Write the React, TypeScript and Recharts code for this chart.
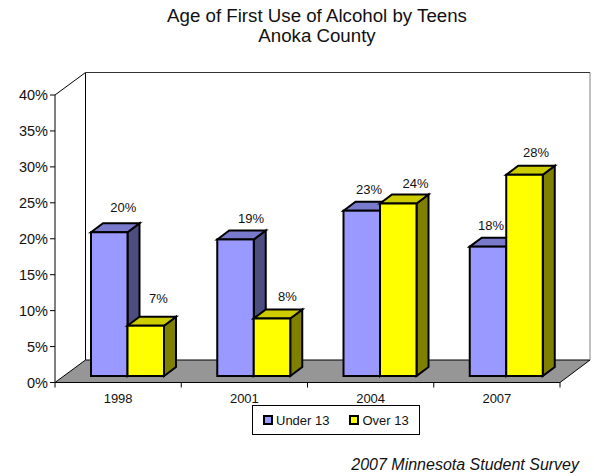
import { Bar, BarChart, LabelList, Legend, XAxis, YAxis } from "recharts";

const years = ["1998", "2001", "2004", "2007"];
const under13 = [20, 19, 23, 18];
const over13 = [7, 8, 24, 28];
const percentTicks = [0, 5, 10, 15, 20, 25, 30, 35, 40];

const chartData = years.map((year, i) => ({
  year,
  under13: under13[i],
  over13: over13[i],
}));

const FONT = "'Liberation Sans', Arial, sans-serif";
const TEXT = "#111";
const BAND = 126.25;

// how far the front face of a bar sits from its place on the floor edge
const SHIFT_X = 9;
const SHIFT_Y = -6.5;
const DEPTH_X = 12;
const DEPTH_Y = 9;

// excel places these by hand, more or less: dx from bar centre, dy from front top to baseline
const underNudges = [
  [14, -20.5],
  [15.5, -16.7],
  [7.2, -17],
  [3, -17],
];
const overNudges = [
  [12.7, -23],
  [15.5, -17.6],
  [17.2, -16],
  [11.5, -18],
];

function bar3d(top: string, side: string) {
  return function Bar3dShape(props: any) {
    const { x, y, width, height, fill } = props;
    const fx = x + SHIFT_X;
    const fy = y + SHIFT_Y;
    return (
      <g stroke="#000" strokeWidth={2} strokeLinejoin="miter">
        <path
          d={`M${fx + width} ${fy} l${DEPTH_X} ${-DEPTH_Y} v${height} l${-DEPTH_X} ${DEPTH_Y} z`}
          fill={side}
        />
        <path
          d={`M${fx} ${fy} l${DEPTH_X} ${-DEPTH_Y} h${width} l${-DEPTH_X} ${DEPTH_Y} z`}
          fill={top}
        />
        <rect x={fx} y={fy} width={width} height={height} fill={fill} />
      </g>
    );
  };
}

function valueLabel(nudges: number[][]) {
  return function ValueLabel(props: any) {
    const { x, y, width, value, index } = props;
    const [dx, dy] = nudges[index];
    return (
      <text
        x={x + SHIFT_X + width / 2 + dx}
        y={y + SHIFT_Y + dy}
        textAnchor="middle"
        fontFamily={FONT}
        fontSize={13}
        fill={TEXT}
      >
        {value}%
      </text>
    );
  };
}

function YearTick(props: any) {
  const { x, y, payload, index } = props;
  return (
    <g>
      <line x1={x - BAND / 2} x2={x - BAND / 2} y1={y - 8} y2={y - 3} stroke="#000" />
      {index === years.length - 1 && (
        <line x1={x + BAND / 2} x2={x + BAND / 2} y1={y - 8} y2={y - 3} stroke="#000" />
      )}
      <text x={x} y={y + 12.5} textAnchor="middle" fontFamily={FONT} fontSize={13} fill={TEXT}>
        {payload.value}
      </text>
    </g>
  );
}

function LegendBox({ payload }: any) {
  return (
    <div
      style={{
        width: 168,
        height: 30,
        boxSizing: "border-box",
        border: "1px solid #000",
        background: "#fff",
        display: "flex",
        alignItems: "center",
        paddingLeft: 10,
        fontFamily: FONT,
        fontSize: 13,
        color: TEXT,
      }}
    >
      {(payload || []).map((item: any, i: number) => (
        <span
          key={item.value}
          style={{ display: "flex", alignItems: "center", marginLeft: i ? 20 : 0 }}
        >
          <span
            style={{
              width: 10,
              height: 10,
              boxSizing: "border-box",
              border: "2px solid #000",
              background: item.color,
              marginRight: 3,
            }}
          />
          {item.value}
        </span>
      ))}
    </div>
  );
}

export default function App() {
  return (
    <div style={{ position: "absolute", left: 0, top: 0, width: 594, height: 476, background: "#fff" }}>
      <BarChart
        width={594}
        height={476}
        data={chartData}
        barSize={36.5}
        barGap={0}
        margin={{ top: 95, right: 34, bottom: 0, left: 0 }}
      >
        <text x={317} y={22} textAnchor="middle" fontFamily={FONT} fontSize={18.7} fill={TEXT}>
          Age of First Use of Alcohol by Teens
        </text>
        <text x={317} y={42} textAnchor="middle" fontFamily={FONT} fontSize={18.7} fill={TEXT}>
          Anoka County
        </text>
        <text
          x={579}
          y={470}
          textAnchor="end"
          fontFamily={FONT}
          fontStyle="italic"
          fontSize={16}
          fill={TEXT}
        >
          2007 Minnesota Student Survey
        </text>

        <path d="M55 382.5 L85.5 360 H590 L560 382.5 Z" fill="#969696" stroke="#000" strokeWidth={1} />
        <path d="M55 95 L85.5 72.5 V360" fill="none" stroke="#000" strokeWidth={1} />
        <path d="M85.5 72.5 H590 V360" fill="none" stroke="#808080" strokeWidth={1} />
        <path d="M85.5 72.5 H590" fill="none" stroke="#333" strokeWidth={1} />

        <XAxis
          dataKey="year"
          height={93.5}
          axisLine={{ stroke: "#000", strokeWidth: 1 }}
          tickLine={false}
          tick={<YearTick />}
          interval={0}
        />
        <YAxis
          width={55}
          domain={[0, 40]}
          ticks={percentTicks}
          interval={0}
          tickFormatter={(v: number) => `${v}%`}
          axisLine={{ stroke: "#000", strokeWidth: 1 }}
          tickLine={{ stroke: "#000" }}
          tickSize={5}
          tickMargin={2}
          tick={{ fontFamily: FONT, fontSize: 14.5, fill: TEXT }}
        />
        <Legend
          verticalAlign="top"
          align="left"
          itemSorter={null}
          content={<LegendBox />}
          wrapperStyle={{ position: "absolute", left: 252, top: 405, width: 168, height: 0 }}
        />
        <Bar
          dataKey="under13"
          name="Under 13"
          fill="#9999FF"
          isAnimationActive={false}
          shape={bar3d("#7A7ACC", "#4D4D80")}
        >
          <LabelList dataKey="under13" content={valueLabel(underNudges)} />
        </Bar>
        <Bar
          dataKey="over13"
          name="Over 13"
          fill="#FFFF00"
          isAnimationActive={false}
          shape={bar3d("#CCCC00", "#808000")}
        >
          <LabelList dataKey="over13" content={valueLabel(overNudges)} />
        </Bar>
      </BarChart>
    </div>
  );
}
